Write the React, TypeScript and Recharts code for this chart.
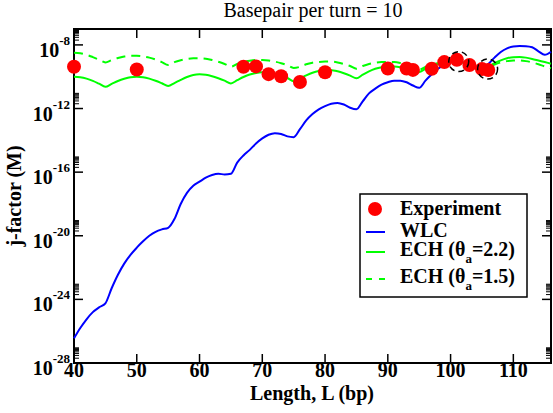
import React from 'react';
import { ComposedChart, Line, Scatter, XAxis, YAxis, ReferenceArea, ReferenceDot } from 'recharts';

// loop length in bp
const lengths = [
  40, 41, 42, 43, 44, 45, 46, 47, 48, 49, 50, 51, 52, 53, 54, 55, 56, 57, 58, 59,
  60, 61, 62, 63, 64, 65, 66, 67, 68, 69, 70, 71, 72, 73, 74, 75, 76, 77, 78, 79,
  80, 81, 82, 83, 84, 85, 86, 87, 88, 89, 90, 91, 92, 93, 94, 95, 96, 97, 98, 99,
  100, 101, 102, 103, 104, 105, 106, 107, 108, 109, 110, 111, 112, 113, 114, 115, 116,
];

// log10 of the j-factor (M)
const wlc = [
  -26.45, -25.8, -25.25, -24.8, -24.5, -24.25, -23.3, -22.45, -21.75, -21.2,
  -20.75, -20.35, -20.0, -19.75, -19.6, -19.5, -18.95, -18.0, -17.3, -16.85,
  -16.6, -16.35, -16.18, -16.1, -16.15, -16.1, -15.4, -14.95, -14.6, -14.2,
  -13.88, -13.65, -13.55, -13.6, -13.75, -13.8, -13.3, -12.75, -12.35, -12.05,
  -11.85, -11.7, -11.65, -11.75, -11.95, -12.05, -11.55, -11.05, -10.75, -10.5,
  -10.35, -10.25, -10.25, -10.35, -10.55, -10.7, -10.25, -9.85, -9.5, -9.25,
  -9.1, -9.05, -9.1, -9.2, -9.35, -9.45, -9.2, -8.8, -8.45, -8.22,
  -8.1, -8.07, -8.08, -8.15, -8.4, -8.62, -8.43,
];

const ech22 = [
  -10.0, -10.03, -10.12, -10.26, -10.44, -10.63, -10.45, -10.27, -10.13, -10.03,
  -10.0, -10.03, -10.12, -10.25, -10.41, -10.58, -10.4, -10.2, -10.02, -9.89,
  -9.85, -9.88, -9.97, -10.1, -10.25, -10.42, -10.22, -10.02, -9.86, -9.76,
  -9.72, -9.74, -9.81, -9.93, -10.08, -10.28, -10.12, -9.92, -9.75, -9.64,
  -9.59, -9.59, -9.66, -9.78, -9.93, -10.1, -9.87, -9.66, -9.5, -9.4,
  -9.35, -9.36, -9.41, -9.5, -9.6, -9.7, -9.5, -9.33, -9.19, -9.1,
  -9.05, -9.05, -9.11, -9.22, -9.38, -9.58, -9.38, -9.15, -8.97, -8.84,
  -8.77, -8.76, -8.8, -8.88, -8.98, -9.08, -9.18,
];

const ech15 = [
  -8.49, -8.52, -8.62, -8.77, -8.93, -9.1, -8.95, -8.82, -8.73, -8.68,
  -8.68, -8.72, -8.8, -8.92, -9.08, -9.26, -9.08, -8.96, -8.88, -8.84,
  -8.84, -8.87, -8.95, -9.06, -9.2, -9.37, -9.2, -9.07, -8.99, -8.95,
  -8.95, -8.98, -9.05, -9.15, -9.28, -9.45, -9.38, -9.22, -9.12, -9.07,
  -9.05, -9.05, -9.1, -9.2, -9.33, -9.5, -9.33, -9.2, -9.12, -9.08,
  -9.07, -9.08, -9.14, -9.24, -9.38, -9.56, -9.38, -9.24, -9.15, -9.1,
  -9.08, -9.09, -9.14, -9.24, -9.4, -9.6, -9.42, -9.24, -9.1, -9.02,
  -8.98, -8.98, -9.02, -9.1, -9.22, -9.35, -9.47,
];

const expLengths = [40, 50, 67, 69, 71, 73, 76, 80, 90, 93, 94, 97, 99, 101, 103, 105, 106];
const expJ = [-9.37, -9.55, -9.37, -9.35, -9.84, -9.97, -10.33, -9.72, -9.48, -9.48, -9.57, -9.5, -9.08, -8.93, -9.26, -9.52, -9.58];

// dashed circles marking two measurements
const markLengths = [101.3, 105.9];
const markJ = [-9.05, -9.52];

const xTicks = [40, 50, 60, 70, 80, 90, 100, 110];
const yMajor = [-28, -24, -20, -16, -12, -8];

const W = 553;
const H = 413;
const LEFT = 74;
const RIGHT = 551;
const TOP = 29;
const BOTTOM = 363;
const FONT = "'Liberation Serif', 'Times New Roman', serif";
const GREEN = '#00ff00';
const BLUE = '#0000ff';
const RED = '#ff0000';

const table = lengths.map((L, i) => ({ x: L, wlc: wlc[i], ech22: ech22[i], ech15: ech15[i] }));
const expData = expLengths.map((L, i) => ({ x: L, y: expJ[i] }));
const yMinor = yMajor.flatMap((m) => [2, 3, 4, 5, 6, 7, 8, 9].map((k) => m + Math.log10(k)));
const yTicks = [...yMajor, ...yMinor].sort((a, b) => a - b);

const XTick = (props: any) => {
  const { x, payload } = props;
  return (
    <g>
      <line x1={x} x2={x} y1={BOTTOM} y2={BOTTOM - 9} stroke="#000" strokeWidth={1.5} />
      <line x1={x} x2={x} y1={TOP} y2={TOP + 9} stroke="#000" strokeWidth={1.5} />
      <text x={x} y={377} textAnchor="middle" fontFamily={FONT} fontWeight="bold" fontSize={20} fill="#000">
        {payload.value}
      </text>
    </g>
  );
};

const YTick = (props: any) => {
  const { y, payload } = props;
  const v = payload.value;
  const major = yMajor.includes(v);
  const len = major ? 9 : 5;
  return (
    <g>
      <line x1={LEFT} x2={LEFT + len} y1={y} y2={y} stroke="#000" strokeWidth={major ? 1.5 : 1} />
      <line x1={RIGHT - len} x2={RIGHT} y1={y} y2={y} stroke="#000" strokeWidth={major ? 1.5 : 1} />
      {major && (
        <text x={70} y={y + 12} textAnchor="end" fontFamily={FONT} fontWeight="bold" fill="#000">
          <tspan fontSize={20}>10</tspan>
          <tspan fontSize={13} dy={-12}>{String(v)}</tspan>
        </text>
      )}
    </g>
  );
};

const Dot = (p: any) => <circle cx={p.cx} cy={p.cy} r={7} fill={RED} />;

export default function App() {
  return (
    <div style={{ position: 'absolute', left: 0, top: 0, width: W, height: H, background: '#fff' }}>
      <ComposedChart width={W} height={H} data={table} margin={{ top: TOP, right: W - RIGHT, bottom: 0, left: 0 }}>
        <XAxis dataKey="x" type="number" domain={[40, 116]} ticks={xTicks} tick={<XTick />}
          tickLine={false} axisLine={false} height={50} interval={0} />
        <YAxis type="number" domain={[-28, -7]} ticks={yTicks} tick={<YTick />}
          tickLine={false} axisLine={false} width={LEFT} interval={0} />
        <ReferenceArea x1={40} x2={116} y1={-28} y2={-7} fill="none" fillOpacity={0} stroke="#000" strokeWidth={2} />
        <Scatter data={expData} dataKey="y" fill={RED} shape={Dot} isAnimationActive={false} />
        <Line type="monotone" dataKey="wlc" stroke={BLUE} strokeWidth={2} dot={false} isAnimationActive={false} />
        <Line type="monotone" dataKey="ech22" stroke={GREEN} strokeWidth={2} dot={false} isAnimationActive={false} />
        <Line type="monotone" dataKey="ech15" stroke={GREEN} strokeWidth={2} strokeDasharray="9 6" dot={false} isAnimationActive={false} />
        {markLengths.map((L, i) => (
          <ReferenceDot key={i} x={L} y={markJ[i]} r={10} fill="none" stroke="#000" strokeWidth={1.5} strokeDasharray="6 4" />
        ))}
      </ComposedChart>
      <svg width={W} height={H} style={{ position: 'absolute', left: 0, top: 0, pointerEvents: 'none' }}>
        <text x={313} y={17} textAnchor="middle" fontFamily={FONT} fontSize={20} fill="#000">
          Basepair per turn = 10
        </text>
        <text x={312} y={400} textAnchor="middle" fontFamily={FONT} fontWeight="bold" fontSize={20} fill="#000">
          Length, L (bp)
        </text>
        <text x={21} y={196} transform="rotate(-90 21 196)" textAnchor="middle" fontFamily={FONT} fontWeight="bold" fontSize={20} fill="#000">
          j-factor (M)
        </text>
        <g fontFamily={FONT} fontWeight="bold" fontSize={20} fill="#000">
          <rect x={360} y={194} width={167} height={103} fill="#fff" stroke="#000" strokeWidth={1.5} />
          <circle cx={375} cy={209} r={7} fill={RED} />
          <text x={400} y={215}>Experiment</text>
          <line x1={366} x2={385} y1={232} y2={232} stroke={BLUE} strokeWidth={2} />
          <text x={400} y={237}>WLC</text>
          <line x1={366} x2={385} y1={252} y2={252} stroke={GREEN} strokeWidth={2} />
          <text x={400} y={256}>
            ECH (θ<tspan fontSize={13} dy={7}>a</tspan><tspan dy={-7}>=2.2)</tspan>
          </text>
          <line x1={366} x2={386} y1={279} y2={279} stroke={GREEN} strokeWidth={2} strokeDasharray="6 7" />
          <text x={400} y={283}>
            ECH (θ<tspan fontSize={13} dy={7}>a</tspan><tspan dy={-7}>=1.5)</tspan>
          </text>
        </g>
      </svg>
    </div>
  );
}
